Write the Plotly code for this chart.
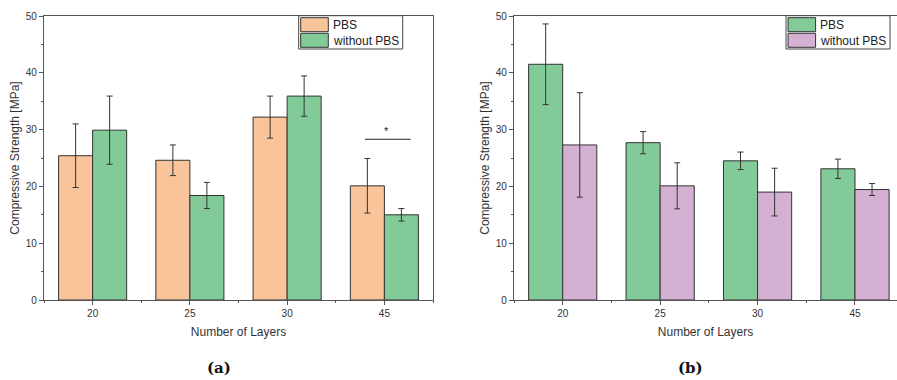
import plotly.graph_objects as go

# ---------------- data ----------------
layers = ["20", "25", "30", "45"]
series_names = ["PBS", "without PBS"]

# panel (a)
a_pbs = [25.4, 24.6, 32.2, 20.1]
a_pbs_err = [5.6, 2.7, 3.7, 4.8]
a_wo = [29.9, 18.4, 35.9, 15.0]
a_wo_err = [6.0, 2.3, 3.55, 1.1]

# panel (b)
b_pbs = [41.5, 27.7, 24.5, 23.1]
b_pbs_err = [7.1, 1.95, 1.55, 1.7]
b_wo = [27.3, 20.1, 19.0, 19.45]
b_wo_err = [9.2, 4.05, 4.2, 1.05]

ORANGE = "#F9C49A"
GREEN = "#82CA98"
PURPLE = "#D4B0D2"
EDGE = "#333333"
AXC = "#555555"
TXT = "#333333"
SANS = "Liberation Sans, Arial, sans-serif"

W, H = 897, 380
xs = list(range(len(layers)))


def px(x):
    return x / W


def py(y):
    return 1 - y / H


def bar(x, y, err, color, xa, ya, name):
    return go.Bar(
        x=x, y=y, name=name, xaxis=xa, yaxis=ya, width=0.35,
        marker=dict(color=color, line=dict(color=EDGE, width=1)),
        error_y=dict(type="data", array=err, color=EDGE, thickness=1, width=3),
        showlegend=False,
    )


fig = go.Figure()
fig.add_trace(bar(xs, a_pbs, a_pbs_err, ORANGE, "x", "y", series_names[0]))
fig.add_trace(bar(xs, a_wo, a_wo_err, GREEN, "x", "y", series_names[1]))
fig.add_trace(bar(xs, b_pbs, b_pbs_err, GREEN, "x2", "y2", series_names[0]))
fig.add_trace(bar(xs, b_wo, b_wo_err, PURPLE, "x2", "y2", series_names[1]))

ydom = [py(300), py(16)]

xcommon = dict(
    tickmode="array", tickvals=xs, ticktext=layers,
    ticks="outside", ticklen=4, tickcolor=AXC, tickwidth=1,
    minor=dict(tickmode="array", tickvals=[i + 0.5 for i in range(-1, len(layers))],
               ticks="outside", ticklen=2, tickcolor=AXC),
    showline=True, linecolor=AXC, linewidth=1.2, mirror=True,
    showgrid=False, zeroline=False, automargin=False,
    tickfont=dict(family=SANS, size=10, color=TXT),
    title=dict(text="Number of Layers", standoff=9,
               font=dict(family=SANS, size=12, color=TXT)),
)
ycommon = dict(
    range=[0, 50], tickmode="linear", tick0=0, dtick=10,
    ticks="outside", ticklen=4, tickcolor=AXC, tickwidth=1,
    minor=dict(tick0=0, dtick=5, ticks="outside", ticklen=2, tickcolor=AXC),
    showline=True, linecolor=AXC, linewidth=1.2,
    showgrid=False, zeroline=False, automargin=False,
    tickfont=dict(family=SANS, size=10, color=TXT),
    title=dict(text="Compressive Strength [MPa]", standoff=3,
               font=dict(family=SANS, size=12, color=TXT)),
)

fig.update_layout(
    template="none",
    width=W, height=H, margin=dict(l=0, r=0, t=0, b=0, pad=0, autoexpand=False),
    paper_bgcolor="white", plot_bgcolor="white", showlegend=False,
    barmode="group", bargap=0.3, bargroupgap=0,
    xaxis=dict(xcommon, domain=[px(44), px(433)], range=[-0.5, 3.5], anchor="y"),
    yaxis=dict(ycommon, domain=ydom, anchor="x", mirror=True),
    xaxis2=dict(xcommon, domain=[px(514), 1.0], range=[-0.5, 3.5 - (903.7 - 897) / 97.4], anchor="y2"),
    yaxis2=dict(ycommon, domain=ydom, anchor="x2", mirror=False),
)

shapes = []
annotations = []

# significance bracket in panel (a)
sig_idx = 3
shapes.append(dict(type="line", xref="x", yref="y", x0=sig_idx - 0.2, x1=sig_idx + 0.27,
                   y0=28.3, y1=28.3, line=dict(color="#222", width=1.2)))
annotations.append(dict(x=sig_idx + 0.02, y=28.4, xref="x", yref="y", text="*",
                        showarrow=False, yanchor="bottom",
                        font=dict(family=SANS, size=11, color="#222")))


def legend(x0, colors):
    box_w = 104
    shapes.append(dict(type="rect", xref="paper", yref="paper",
                       x0=px(x0), x1=px(x0 + box_w), y0=py(49), y1=py(15.7),
                       line=dict(color="#444", width=1), fillcolor="white", layer="above"))
    for i, (nm, c) in enumerate(zip(series_names, colors)):
        top = 17.7 + i * 15.6
        shapes.append(dict(type="rect", xref="paper", yref="paper",
                           x0=px(x0 + 2), x1=px(x0 + 29.6), y0=py(top + 14), y1=py(top),
                           line=dict(color=EDGE, width=1), fillcolor=c, layer="above"))
        annotations.append(dict(x=px(x0 + 32), y=py(top + 7.3), xref="paper", yref="paper",
                                text=nm, showarrow=False, xanchor="left", yanchor="middle",
                                font=dict(family=SANS, size=12, color="#222")))


legend(298.7, [ORANGE, GREEN])
legend(786, [GREEN, PURPLE])

for lab, xc in (("(a)", 219), ("(b)", 690.5)):
    annotations.append(dict(x=px(xc), y=py(368), xref="paper", yref="paper", text="<b>" + lab + "</b>",
                            showarrow=False, xanchor="center", yanchor="middle",
                            font=dict(family="DejaVu Serif", size=15, color="#111")))

fig.update_layout(shapes=shapes, annotations=annotations)
fig.write_html("out.html")
